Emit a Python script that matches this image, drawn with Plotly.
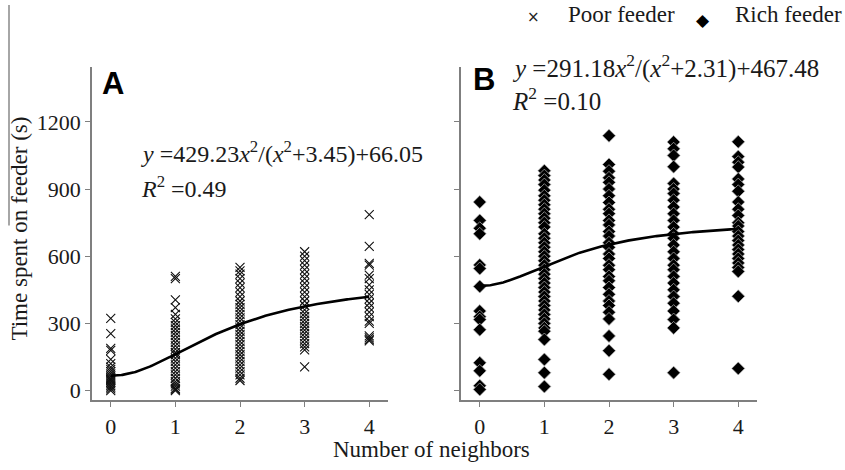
import numpy as np
import plotly.graph_objects as go

# ---- data ----
poor_x0 = [322, 254, 188, 180, 139, 120, 105, 95, 85, 75, 65, 55, 50, 45, 38, 30, 22, 15, 8, 0]
poor_x1 = [510, 500, 405, 370, 340, 320, 305, 290, 275, 260, 245, 230, 215, 200, 185, 170, 160, 145,
           130, 115, 100, 85, 70, 55, 40, 30, 20, 10, 5, 0]
poor_x2 = [550, 535, 520, 500, 480, 460, 440, 420, 400, 385, 370, 355, 340, 325, 310, 295, 280, 265,
           250, 235, 220, 205, 190, 175, 160, 145, 130, 115, 100, 85, 70, 55, 45]
poor_x3 = [620, 600, 580, 560, 540, 520, 500, 480, 460, 440, 420, 400, 380, 360, 345, 330, 315, 300,
           285, 270, 255, 240, 225, 210, 195, 182, 106]
poor_x4 = [786, 644, 568, 560, 516, 500, 472, 450, 430, 410, 390, 370, 350, 330, 310, 300, 244, 235, 228, 222]

rich_x0 = [842, 760, 725, 700, 561, 545, 465, 355, 330, 317, 272, 124, 88, 22, 5]
rich_x1 = [982, 960, 940, 920, 895, 870, 850, 830, 810, 790, 770, 750, 730, 700, 680, 660, 640, 620,
           600, 580, 560, 540, 520, 500, 480, 460, 440, 420, 400, 380, 360, 340, 320, 300, 280, 265,
           228, 139, 80, 18]
rich_x2 = [1138, 1010, 980, 950, 930, 900, 870, 840, 810, 790, 760, 740, 710, 690, 660, 640, 610, 590,
           560, 540, 510, 490, 460, 430, 400, 380, 350, 320, 244, 178, 73]
rich_x3 = [1110, 1080, 1050, 1000, 925, 900, 880, 850, 820, 790, 760, 730, 700, 680, 650, 620, 590,
           560, 540, 510, 480, 450, 420, 390, 355, 317, 280, 80]
rich_x4 = [1111, 1045, 1020, 998, 945, 920, 890, 842, 810, 782, 750, 735, 710, 690, 670, 650, 630,
           610, 590, 570, 550, 532, 421, 99]

neighbors = [0, 1, 2, 3, 4]
poor_groups = [poor_x0, poor_x1, poor_x2, poor_x3, poor_x4]
rich_groups = [rich_x0, rich_x1, rich_x2, rich_x3, rich_x4]

# fitted model parameters shown on the chart: y = a x^2/(x^2+b) + c
fit_poor = [429.23, 3.45, 66.05]
fit_rich = [291.18, 2.31, 467.48]

y_ticks = [0, 300, 600, 900, 1200]
series_names = ["Poor feeder", "Rich feeder"]

SERIF = "Liberation Serif"
AXC = "#7f7f7f"
TXT = "#1a1a1a"

def flatten(groups):
    xs, ys = [], []
    for n, g in zip(neighbors, groups):
        xs += [n] * len(g)
        ys += g
    return xs, ys

fig = go.Figure()

px_, py_ = flatten(poor_groups)
fig.add_trace(go.Scatter(x=px_, y=py_, mode="markers", name=series_names[0],
                         marker=dict(symbol="x-thin-open", size=9, color="#111",
                                     line=dict(width=1.1, color="#111")),
                         xaxis="x", yaxis="y", showlegend=False))
rx_, ry_ = flatten(rich_groups)
fig.add_trace(go.Scatter(x=rx_, y=ry_, mode="markers", name=series_names[1],
                         marker=dict(symbol="diamond", size=10, color="#000",
                                     line=dict(width=0.7, color="#bbbbbb")),
                         xaxis="x2", yaxis="y2", showlegend=False))

xc = np.linspace(0, 4, 200)
for (a, b, c), xa, ya in [(fit_poor, "x", "y"), (fit_rich, "x2", "y2")]:
    fig.add_trace(go.Scatter(x=xc, y=a * xc**2 / (xc**2 + b) + c, mode="lines",
                             line=dict(color="black", width=2.6), showlegend=False,
                             xaxis=xa, yaxis=ya, hoverinfo="skip"))

W, H = 845, 470
def px(x):
    return x / W
def py(y):
    return 1 - y / H

axis_common = dict(showline=True, linecolor=AXC, linewidth=1.5, ticks="outside", ticklen=5,
                   tickcolor=AXC, tickwidth=1.3, showgrid=False, zeroline=False,
                   tickfont=dict(family=SERIF, size=22, color=TXT))

fig.update_layout(
    width=W, height=H, margin=dict(l=0, r=0, t=0, b=0),
    paper_bgcolor="white", plot_bgcolor="white",
    xaxis=dict(domain=[px(92), px(388)], range=[-0.29, 4.29], tickvals=neighbors,
               anchor="y", **axis_common),
    xaxis2=dict(domain=[px(461), px(757)], range=[-0.29, 4.29], tickvals=neighbors,
                anchor="y2", **axis_common),
    yaxis=dict(domain=[py(403), py(67)], range=[-44, 1447], tickvals=y_ticks,
               anchor="x", **axis_common),
    yaxis2=dict(domain=[py(403), py(67)], range=[-44, 1447], tickvals=y_ticks,
                showticklabels=False, anchor="x2", **axis_common),
    showlegend=False,
)

EQ = dict(family=SERIF, size=24, color=TXT)
ann = [
    dict(text="<b>A</b>", x=px(113), y=py(84), font=dict(family="Liberation Sans", size=31, color="black"),
         xanchor="center", yanchor="middle"),
    dict(text="<b>B</b>", x=px(484), y=py(80), font=dict(family="Liberation Sans", size=31, color="black"),
         xanchor="center", yanchor="middle"),
    dict(text="<i>y</i> =429.23<i>x</i><sup>2</sup>/(<i>x</i><sup>2</sup>+3.45)+66.05",
         x=px(139), y=py(170), xanchor="left", yanchor="bottom", font=EQ),
    dict(text="<i>R</i><sup>2</sup> =0.49", x=px(139), y=py(171), xanchor="left", yanchor="top",
         font=EQ),
    dict(text="<i>y</i> =291.18<i>x</i><sup>2</sup>/(<i>x</i><sup>2</sup>+2.31)+467.48",
         x=px(510), y=py(67), xanchor="left", yanchor="middle", font=dict(family=SERIF, size=25, color=TXT)),
    dict(text="<i>R</i><sup>2</sup> =0.10", x=px(510), y=py(100), xanchor="left", yanchor="middle",
         font=dict(family=SERIF, size=25, color=TXT)),
    dict(text="Time spent on feeder (s)", x=px(20), y=py(230), textangle=-90,
         xanchor="center", yanchor="middle", font=dict(family=SERIF, size=23, color=TXT)),
    dict(text="Number of neighbors", x=px(431), y=py(452), xanchor="center", yanchor="middle",
         font=dict(family=SERIF, size=23, color=TXT)),
    # legend
    dict(text="×", x=px(533), y=py(17), xanchor="center", yanchor="middle",
         font=dict(family="DejaVu Sans", size=15, color="#222")),
    dict(text=series_names[0], x=px(566), y=py(15), xanchor="left", yanchor="middle",
         font=dict(family=SERIF, size=23, color=TXT)),
    dict(text="◆", x=px(703), y=py(20), xanchor="center", yanchor="middle",
         font=dict(family="DejaVu Sans", size=17, color="black")),
    dict(text=series_names[1], x=px(733), y=py(15), xanchor="left", yanchor="middle",
         font=dict(family=SERIF, size=23, color=TXT)),
]
for a in ann:
    a.update(xref="paper", yref="paper", showarrow=False)
fig.update_layout(annotations=ann)

fig.add_shape(type="line", xref="paper", yref="paper", x0=px(9), x1=px(9), y0=py(5), y1=py(227),
              line=dict(color="#888", width=1.5))

fig.write_html("out.html")
